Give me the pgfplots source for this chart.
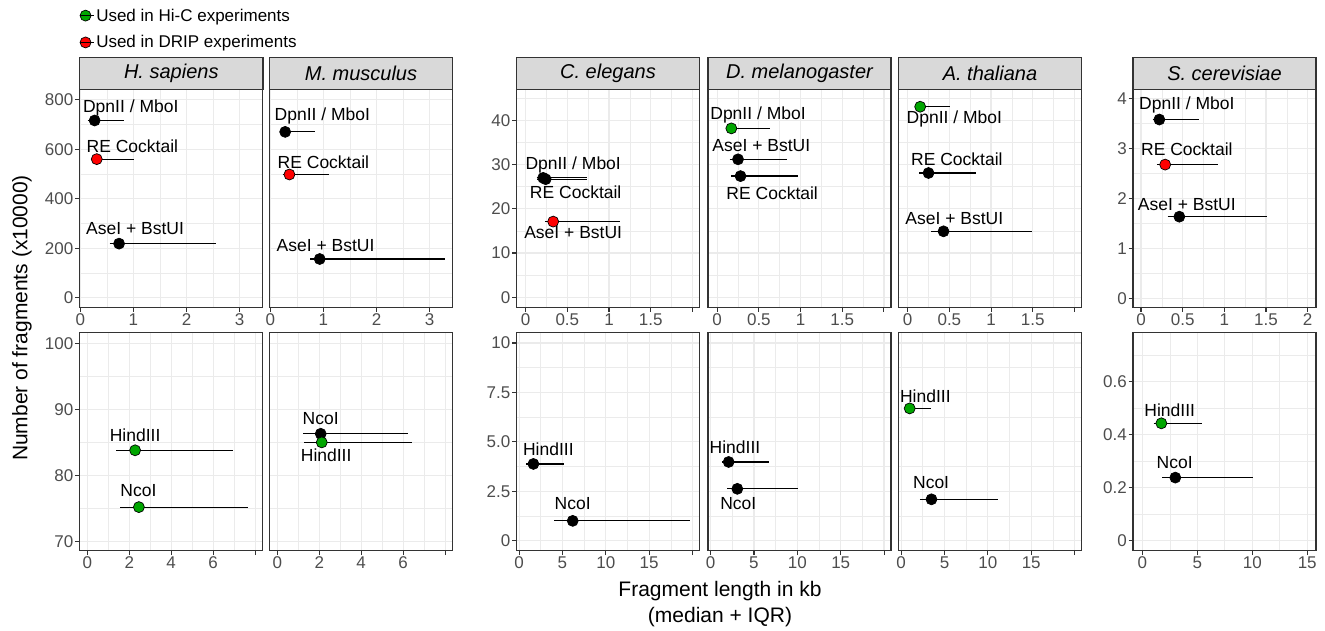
\documentclass[border=0pt]{standalone}
\usepackage{pgfplots}
\pgfplotsset{compat=1.18}
\usepackage{fontspec}
\setmainfont{Liberation Sans}

\definecolor{grey20}{HTML}{333333}
\definecolor{grey30}{HTML}{4D4D4D}
\definecolor{grey85}{HTML}{D9D9D9}
\definecolor{grey92}{HTML}{EBEBEB}
\definecolor{hic}{HTML}{00A600}
\definecolor{drip}{HTML}{FF0000}

\newcommand{\fs}[1]{\fontsize{#1}{#1}\selectfont}
% error bar: y, low, high
\newcommand{\eb}[3]{\addplot[black, line width=1.2pt, forget plot] coordinates {(#2,#1) (#3,#1)};}
% point: x, y, fill colour
\newcommand{\pt}[3]{\addplot[only marks, mark=*, mark size=5.5pt, mark options={draw=black, fill=#3, line width=0.7pt}, forget plot] coordinates {(#1,#2)};}
% enzyme label
\newcommand{\lab}[3]{\node[font=\fs{17.5}, inner sep=0pt] at (axis cs:#1,#2) {#3};}
% facet strip: left, right, centre, text
\newcommand{\strip}[4]{%
  \draw[fill=grey85, draw=grey20, line width=1.3pt] (#1pt,-57.5pt) rectangle (#2pt,-89.5pt);
  \node[font=\fs{20}\itshape] at (#3pt,-73.5pt) {#4};}

\pgfplotsset{
  gg/.style={
    scale only axis, anchor=north west, clip=false, width=183pt,
    axis line style={draw=grey20, line width=1.3pt},
    grid=both,
    major grid style={draw=grey92, line width=1.2pt},
    minor grid style={draw=grey92, line width=0.6pt},
    major tick style={draw=grey20, line width=1.1pt},
    major tick length=4.5pt, minor tick length=0pt,
    tick align=outside,
    xtick pos=bottom, ytick pos=left,
    ticklabel style={font=\fs{17}, text=grey30, inner sep=1.5pt},
    /pgf/number format/assume math mode=true,
    scaled ticks=false,
  },
  top/.style={gg, height=217.8pt},
  bot/.style={gg, height=218pt},
  noy/.style={yticklabels={}, ytick style={draw=none}},
  % x scales
  xhm/.style={xmin=-0.015, xmax=3.43, xtick={0,1,2,3}, minor xtick={0.5,1.5,2.5}},
  xhmb/.style={xmin=-0.37, xmax=8.35, xtick={0,2,4,6,8}, xticklabels={0,2,4,6,}, minor xtick={1,3,5,7}},
  xcda/.style={xmin=-0.11, xmax=2.085, xtick={0,0.5,1,1.5,2}, xticklabels={0,0.5,1,1.5,}, minor xtick={0.25,0.75,1.25,1.75}},
  xcdab/.style={xmin=-0.3, xmax=20.8, xtick={0,5,10,15,20}, xticklabels={0,5,10,15,}, minor xtick={2.5,7.5,12.5,17.5}},
  % y scales
  yhm/.style={ymin=-38, ymax=841, ytick={0,200,400,600,800}, minor ytick={100,300,500,700}},
  yhmb/.style={ymin=68.6, ymax=101.6, ytick={70,80,90,100}, minor ytick={75,85,95}},
  ycda/.style={ymin=-2.3, ymax=47, ytick={0,10,20,30,40}, minor ytick={5,15,25,35,45}},
  ycdab/.style={ymin=-0.51, ymax=10.52, ytick={0,2.5,5,7.5,10}, yticklabels={0,2.5,5.0,7.5,10}, minor ytick={1.25,3.75,6.25,8.75}},
}

\begin{document}
\begin{tikzpicture}
\useasboundingbox (0pt,0pt) rectangle (1325pt,-630pt);

% ---------------- top row ----------------
\begin{axis}[top, xhm, yhm, at={(79.5pt,-89.5pt)},
  legend style={at={(axis description cs:0,1)}, anchor=north west, xshift=-3pt, yshift=85pt,
    draw=none, fill=none, font=\fs{17}, row sep=9pt, legend cell align=left,
    nodes={inner sep=2pt}}]
\addlegendimage{legend image code/.code={\draw[draw=black, fill=hic, line width=0.7pt] (5.5pt,0pt) circle (5.5pt); \path (0pt,0pt) -- (14pt,0pt);}}
\addlegendentry{Used in Hi-C experiments}
\addlegendimage{legend image code/.code={\draw[draw=black, fill=drip, line width=0.7pt] (5.5pt,0pt) circle (5.5pt); \path (0pt,0pt) -- (14pt,0pt);}}
\addlegendentry{Used in DRIP experiments}
\eb{716}{0.14}{0.83}
\eb{560}{0.20}{1.01}
\eb{219}{0.55}{2.56}
\pt{0.27}{716}{black}
\pt{0.31}{560}{drip}
\pt{0.73}{219}{black}
\lab{0.95}{768}{DpnII / MboI}
\lab{0.98}{614}{RE Cocktail}
\lab{1.03}{278}{AseI + BstUI}
\end{axis}

\begin{axis}[top, xhm, yhm, noy, at={(269.5pt,-89.5pt)}]
\eb{670}{0.19}{0.84}
\eb{498}{0.23}{1.10}
\eb{157}{0.75}{3.28}
\pt{0.28}{670}{black}
\pt{0.36}{498}{drip}
\pt{0.93}{157}{black}
\lab{0.98}{736}{DpnII / MboI}
\lab{1.00}{548}{RE Cocktail}
\lab{1.04}{213}{AseI + BstUI}
\end{axis}

\begin{axis}[top, xcda, ycda, at={(516.5pt,-89.5pt)}]
\eb{27.0}{0.13}{0.74}
\eb{26.7}{0.14}{0.74}
\eb{17.1}{0.23}{1.13}
\pt{0.21}{27.0}{black}
\pt{0.24}{26.7}{black}
\pt{0.33}{17.1}{drip}
\lab{0.57}{30.0}{DpnII / MboI}
\lab{0.60}{23.8}{RE Cocktail}
\lab{0.57}{14.6}{AseI + BstUI}
\end{axis}

\begin{axis}[top, xcda, ycda, noy, at={(708pt,-89.5pt)}]
\eb{38.2}{0.11}{0.63}
\eb{31.2}{0.15}{0.84}
\eb{27.4}{0.17}{0.97}
\pt{0.17}{38.2}{hic}
\pt{0.25}{31.2}{black}
\pt{0.28}{27.4}{black}
\lab{0.49}{41.3}{DpnII / MboI}
\lab{0.53}{34.3}{AseI + BstUI}
\lab{0.66}{23.6}{RE Cocktail}
\end{axis}

\begin{axis}[top, xcda, ycda, noy, at={(898.5pt,-89.5pt)}]
\eb{43.1}{0.09}{0.51}
\eb{28.1}{0.14}{0.82}
\eb{14.9}{0.28}{1.49}
\pt{0.15}{43.1}{hic}
\pt{0.25}{28.1}{black}
\pt{0.43}{14.9}{black}
\lab{0.56}{40.4}{DpnII / MboI}
\lab{0.59}{31.2}{RE Cocktail}
\lab{0.56}{17.8}{AseI + BstUI}
\end{axis}

\begin{axis}[top, at={(1133pt,-89.5pt)},
  xmin=-0.096, xmax=2.1, xtick={0,0.5,1,1.5,2}, minor xtick={0.25,0.75,1.25,1.75},
  ymin=-0.17, ymax=4.18, ytick={0,1,2,3,4}, minor ytick={0.5,1.5,2.5,3.5}]
\eb{3.58}{0.14}{0.69}
\eb{2.68}{0.19}{0.92}
\eb{1.64}{0.32}{1.51}
\pt{0.22}{3.58}{black}
\pt{0.29}{2.68}{drip}
\pt{0.46}{1.64}{black}
\lab{0.55}{3.88}{DpnII / MboI}
\lab{0.55}{2.98}{RE Cocktail}
\lab{0.55}{1.89}{AseI + BstUI}
\end{axis}

% ---------------- bottom row ----------------
\begin{axis}[bot, xhmb, yhmb, at={(79.5pt,-332.7pt)}]
\eb{83.8}{1.37}{6.96}
\eb{75.2}{1.56}{7.67}
\pt{2.28}{83.8}{hic}
\pt{2.46}{75.2}{hic}
\lab{2.28}{86.1}{HindIII}
\lab{2.44}{77.7}{NcoI}
\end{axis}

\begin{axis}[bot, xhmb, yhmb, noy, at={(269.5pt,-332.7pt)}]
\eb{86.3}{1.24}{6.24}
\eb{85.0}{1.29}{6.44}
\pt{2.07}{86.3}{black}
\pt{2.12}{85.0}{hic}
\lab{2.07}{88.6}{NcoI}
\lab{2.33}{83.1}{HindIII}
\end{axis}

\begin{axis}[bot, xcdab, ycdab, at={(516.5pt,-332.7pt)}]
\eb{3.88}{0.81}{5.18}
\eb{1.0}{4.06}{19.76}
\pt{1.65}{3.88}{black}
\pt{6.18}{1.0}{black}
\lab{3.37}{4.64}{HindIII}
\lab{6.18}{1.89}{NcoI}
\end{axis}

\begin{axis}[bot, xcdab, ycdab, noy, at={(708pt,-332.7pt)}]
\eb{3.98}{1.31}{6.77}
\eb{2.62}{1.92}{10.05}
\pt{2.08}{3.98}{black}
\pt{3.08}{2.62}{black}
\lab{2.81}{4.72}{HindIII}
\lab{3.19}{1.86}{NcoI}
\end{axis}

\begin{axis}[bot, xcdab, ycdab, noy, at={(898.5pt,-332.7pt)}]
\eb{6.69}{0.50}{3.46}
\eb{2.09}{2.15}{11.22}
\pt{0.99}{6.69}{hic}
\pt{3.5}{2.09}{black}
\lab{2.80}{7.33}{HindIII}
\lab{3.46}{2.93}{NcoI}
\end{axis}

\begin{axis}[bot, at={(1133pt,-332.7pt)},
  xmin=-0.85, xmax=15.8, xtick={0,5,10,15}, minor xtick={2.5,7.5,12.5},
  ymin=-0.038, ymax=0.785, ytick={0,0.2,0.4,0.6}, yticklabels={0,0.2,0.4,0.6}, minor ytick={0.1,0.3,0.5,0.7}]
\eb{0.443}{1.03}{5.47}
\eb{0.238}{1.79}{10.03}
\pt{1.73}{0.443}{hic}
\pt{3.0}{0.238}{black}
\lab{2.49}{0.494}{HindIII}
\lab{2.94}{0.293}{NcoI}
\end{axis}

% ---------------- strips and titles ----------------
\strip{79.5}{263}{171.3}{H. sapiens}
\strip{269.5}{452.5}{361}{M. musculus}
\strip{516.5}{699.5}{608}{C. elegans}
\strip{708}{891}{799.5}{D. melanogaster}
\strip{898.5}{1081.5}{990}{A. thaliana}
\strip{1133}{1316}{1224.5}{S. cerevisiae}

\node[rotate=90, font=\fs{21}] at (22pt,-318pt) {Number of fragments (x10000)};
\node[font=\fs{21}] at (720pt,-591pt) {Fragment length in kb};
\node[font=\fs{21}] at (720pt,-617pt) {(median + IQR)};
\end{tikzpicture}
\end{document}
